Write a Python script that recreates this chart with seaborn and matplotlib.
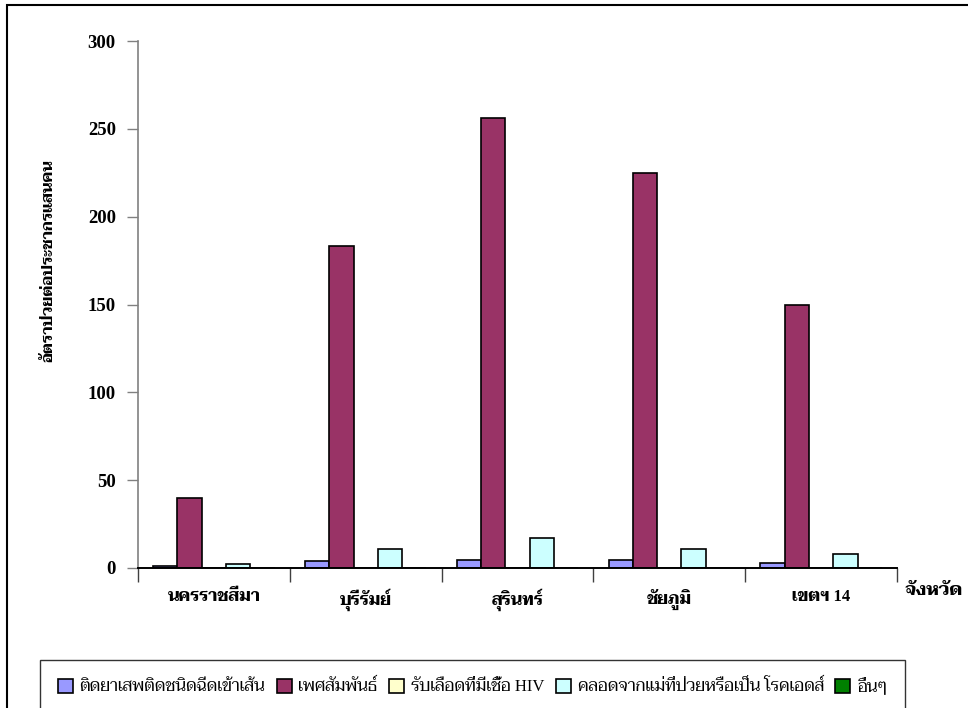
import matplotlib
matplotlib.use("Agg")
import numpy as np
import pandas as pd
import matplotlib.pyplot as plt
import seaborn as sns
from matplotlib.patches import Rectangle

# ข้อมูลอัตราป่วยต่อประชากรแสนคน แยกตามจังหวัดและกลุ่มเสี่ยง
provinces = ['นครราชสีมา', 'บุรีรัมย์', 'สุรินทร์', 'ชัยภูมิ', 'เขตฯ 14']
routes = ['ติดยาเสพติดชนิดฉีดเข้าเส้น', 'เพศสัมพันธ์', 'รับเลือดที่มีเชื้อ HIV',
          'คลอดจากแม่ที่ป่วยหรือเป็น โรคเอดส์', 'อื่นๆ']
ivdu = [1.0, 3.8, 4.5, 4.5, 2.6]
sexual = [39.8, 183.4, 256.0, 224.8, 149.6]
blood = [0, 0, 0, 0, 0]
perinatal = [2.1, 10.6, 17.0, 10.6, 8.1]
other = [0, 0, 0, 0, 0]
colors = ['#9999FF', '#993366', '#FFFFCC', '#CCFFFF', '#008000']
yticks = [0, 50, 100, 150, 200, 250, 300]

df = pd.DataFrame({
    'จังหวัด': provinces * 5,
    'กลุ่ม': np.repeat(routes, len(provinces)),
    'อัตรา': ivdu + sexual + blood + perinatal + other,
})

plt.rcParams['font.family'] = ['Liberation Serif', 'Taviraj', 'Noto Serif Thai', 'Sarabun', 'DejaVu Sans']

fig = plt.figure(figsize=(9.68, 7.08), dpi=100)
ax = fig.add_axes([138 / 968, 1 - 568 / 708, (897 - 138) / 968, (568 - 41) / 708])

sns.barplot(data=df, x='จังหวัด', y='อัตรา', hue='กลุ่ม', palette=colors,
            saturation=1, width=0.8, edgecolor='black', linewidth=1.2, ax=ax)

ax.set_xlim(-0.5, len(provinces) - 0.5)
ax.set_ylim(0, 300)
ax.set_yticks(yticks)
ax.set_yticklabels([str(v) for v in yticks], fontsize=13.5, fontweight='bold')
ax.set_xticks(range(len(provinces)))
ax.set_xticklabels(provinces, fontsize=12, fontweight='bold')
ax.set_xticks(np.arange(-0.5, len(provinces)), minor=True)
ax.tick_params(axis='x', which='major', length=0, pad=15)
ax.tick_params(axis='x', which='minor', length=10, width=1, color='#404040', direction='out')
ax.tick_params(axis='y', length=8, width=1, color='#808080', direction='out', pad=8)

for s in ['top', 'right']:
    ax.spines[s].set_visible(False)
ax.spines['left'].set_color('#808080')
ax.spines['left'].set_linewidth(1.2)
ax.spines['bottom'].set_color('black')
ax.spines['bottom'].set_linewidth(1.4)

ax.set_xlabel('')
ax.set_ylabel('อัตราป่วยต่อประชากรแสนคน', fontsize=11, fontweight='bold')
ax.yaxis.set_label_coords(-0.109, 0.583)
ax.text(1.01, -0.042, 'จังหวัด', transform=ax.transAxes, fontsize=13,
        fontweight='bold', ha='left', va='center')

handles, labels = ax.get_legend_handles_labels()
ax.get_legend().remove()
fig.legend(handles, labels, loc='upper left', bbox_to_anchor=(40 / 968, 1 - 660 / 708),
           ncol=5, fontsize=12, frameon=True, fancybox=False, edgecolor='black',
           handlelength=0.9, handleheight=0.9, handletextpad=0.4, columnspacing=0.7,
           borderpad=1.05, borderaxespad=0)
fig.legends[0].get_frame().set_linewidth(1)

# กรอบรอบแผนภูมิ
fig.patches.append(Rectangle((7 / 968, -0.1), 1.2, 1.1 - 5 / 708, transform=fig.transFigure,
                             fill=False, edgecolor='black', linewidth=1.5))

fig.savefig('out.png', dpi=100)
